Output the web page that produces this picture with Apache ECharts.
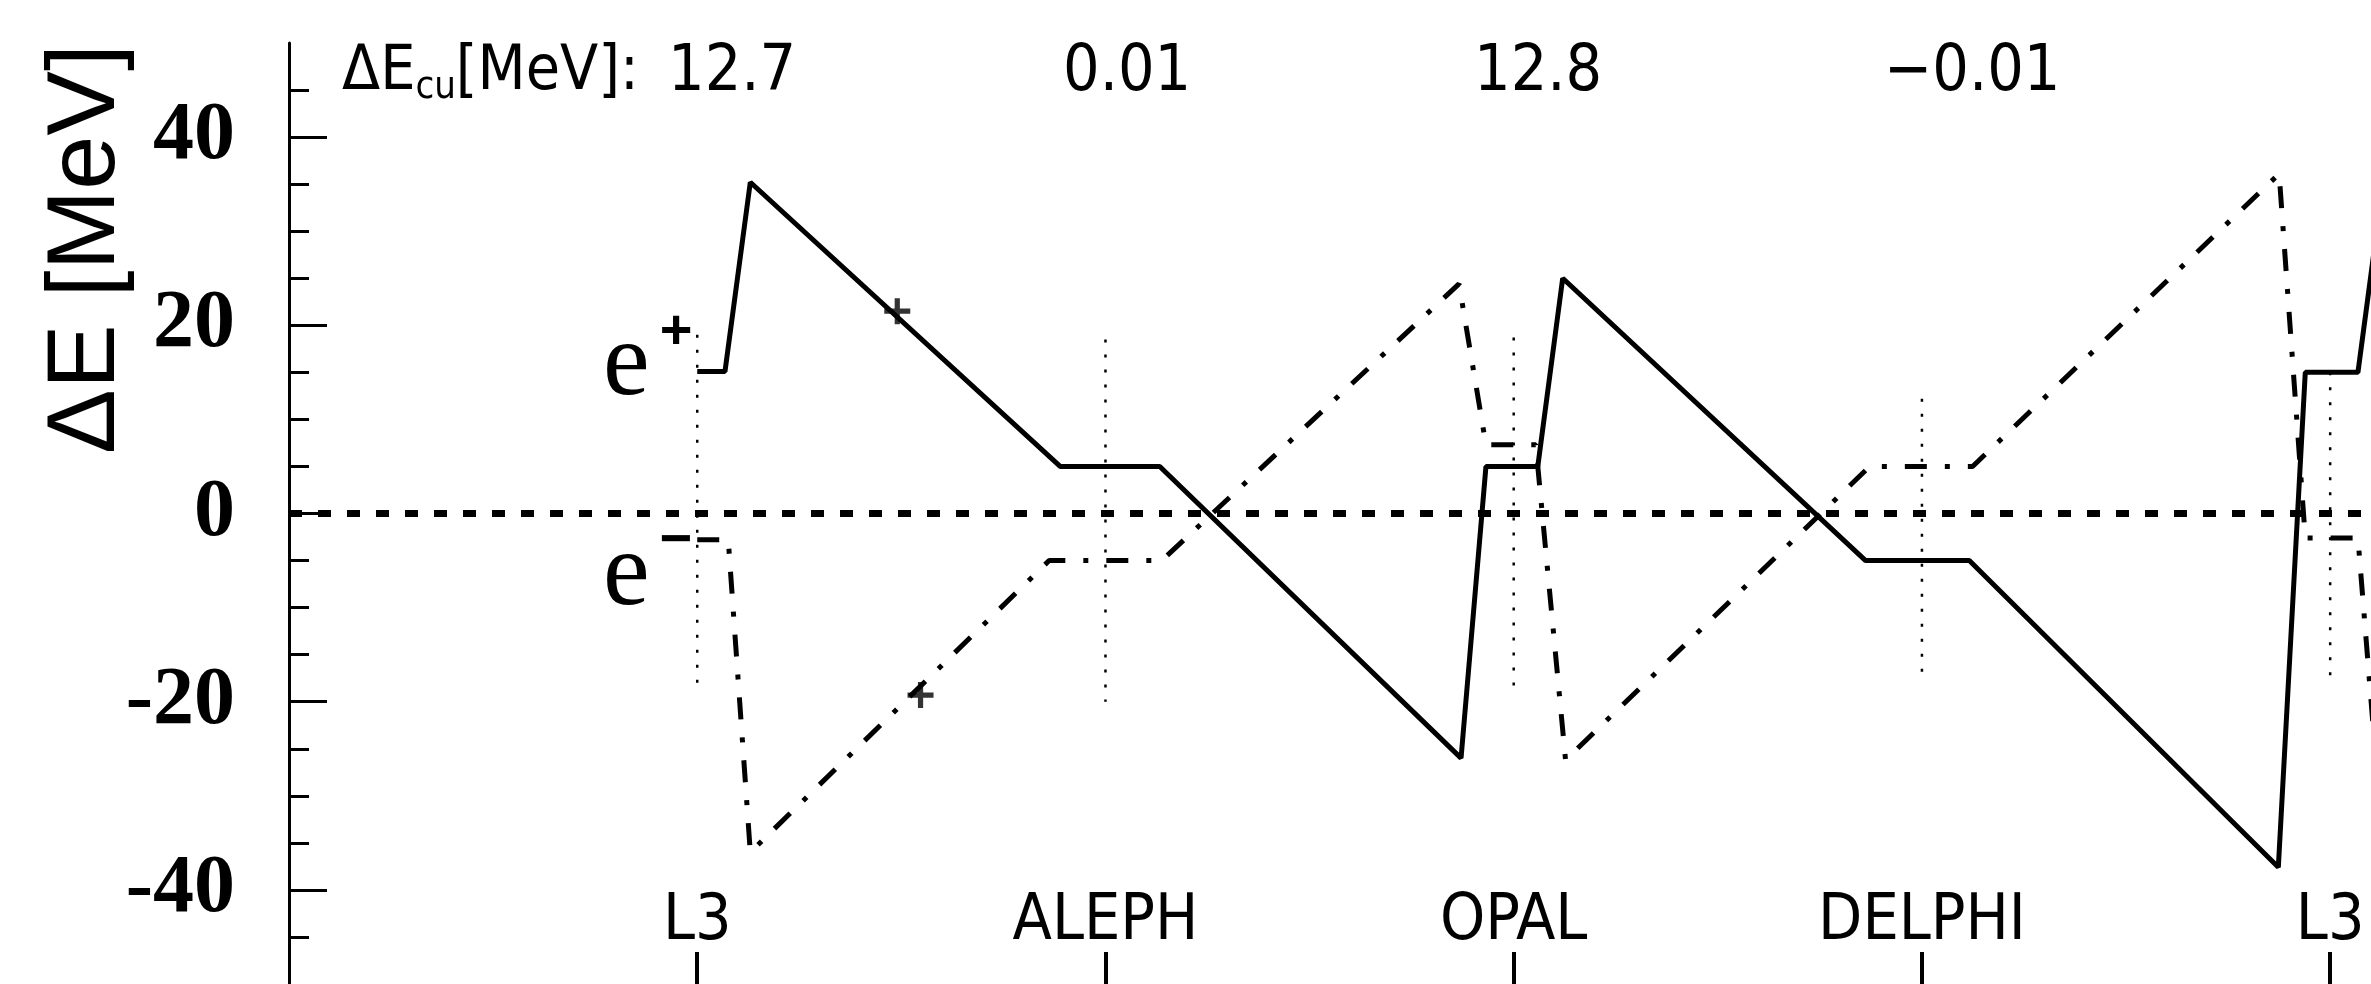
<!DOCTYPE html>
<html>
<head>
<meta charset="utf-8">
<script src="https://cdn.jsdelivr.net/npm/echarts@6/dist/echarts.min.js"></script>
<style>
html,body{margin:0;padding:0;background:#fff;}
#chart{width:2371px;height:984px;}
</style>
</head>
<body>
<div id="chart"></div>
<script>
// ---- data (x: ring position, L3 = 0, ALEPH = 1, OPAL = 2, DELPHI = 3, L3 = 4) ----
const detectorPos   = [0, 1, 2, 3, 4];
const detectorNames = ['L3', 'ALEPH', 'OPAL', 'DELPHI', 'L3'];
const deltaEcm      = ['12.7', '0.01', '12.8', '\u22120.01'];

const yMajorTicks = [-40, -20, 0, 20, 40];
const yMinorTicks = [-45, -35, -30, -25, -15, -10, -5, 5, 10, 15, 25, 30, 35, 45];

// e+ energy deviation [MeV] (solid)
const ePlusX = [0.0, 0.068, 0.13, 0.889, 1.133, 1.871, 1.932, 2.059, 2.12, 2.862, 3.116, 3.873, 3.939, 4.068, 4.13];
const ePlusY = [15.1, 15.1, 35.2, 5.0, 5.0, -26.0, 5.0, 5.0, 25.0, -5.0, -5.0, -37.6, 15.0, 15.0, 35.2];

// e- energy deviation [MeV] (dash-dot)
const eMinusX = [0.0, 0.076, 0.13, 0.862, 1.138, 1.866, 1.932, 2.054, 2.127, 2.872, 3.124, 3.875, 3.939, 4.068, 4.13];
const eMinusY = [-2.8, -2.8, -36.0, -5.0, -5.0, 24.4, 7.3, 7.3, -26.2, 5.0, 5.0, 36.1, -2.6, -2.6, -36.0];

// dotted vertical marks at the interaction points
const ipTop    = [19.0, 18.5, 18.7, 12.2, 15.0];
const ipBottom = [-18.5, -20.0, -18.7, -17.2, -18.4];

// small cross marks on the curves
const crossX = [0.49, 0.547];
const crossY = [21.5, -19.3];

// zero reference line
const zeroX = [-1, 4.1];
const zeroY = [0, 0];

// ---- chart ----
const zip = (xs, ys) => xs.map((x, i) => [x, ys[i]]);
const narrow = "'Liberation Sans Narrow', 'DejaVu Sans Condensed', 'Liberation Sans', sans-serif";

const chart = echarts.init(document.getElementById('chart'), null, {renderer: 'canvas'});

const ipSeries = detectorPos.map((x, i) => ({
  type: 'line', silent: true, symbol: 'none', animation: false,
  data: [[x, ipTop[i]], [x, ipBottom[i]]],
  lineStyle: {color: '#000', width: 2.5, type: [3, 12]}
}));

const annotX = [668, 1063, 1474, 1884];

const option = {
  backgroundColor: '#fff',
  animation: false,
  grid: {left: 289, top: 43, width: 2088, height: 944, containLabel: false},
  xAxis: {
    type: 'value', min: -1, max: 4.1,
    axisLine: {show: false, onZero: false},
    splitLine: {show: false},
    axisTick: {show: true, inside: true, length: 32, customValues: detectorPos,
               lineStyle: {color: '#000', width: 4}},
    axisLabel: {show: true, inside: true, customValues: detectorPos, margin: 30,
                formatter: v => detectorNames[Math.round(v)] || '',
                color: '#000', fontSize: 64, fontFamily: narrow}
  },
  yAxis: [{
    type: 'value', min: -50, max: 50, position: 'left',
    axisLine: {show: true, onZero: false, lineStyle: {color: '#000', width: 3}},
    splitLine: {show: false},
    axisTick: {show: true, inside: true, length: 38, customValues: yMajorTicks,
               lineStyle: {color: '#000', width: 3}},
    axisLabel: {show: true, customValues: yMajorTicks, margin: 54,
                color: '#000', fontSize: 82, fontWeight: 'bold',
                fontFamily: "'Liberation Serif', 'DejaVu Serif', serif"}
  }, {
    type: 'value', min: -50, max: 50, position: 'left',
    axisLine: {show: false, onZero: false},
    splitLine: {show: false},
    axisTick: {show: true, inside: true, length: 20, customValues: yMinorTicks,
               lineStyle: {color: '#000', width: 3}},
    axisLabel: {show: false}
  }],
  series: [
    {type: 'line', silent: true, symbol: 'none', data: zip(zeroX, zeroY),
     lineStyle: {color: '#000', width: 7, type: [13, 16]}},
    ...ipSeries,
    {type: 'line', name: 'e+', symbol: 'none', data: zip(ePlusX, ePlusY),
     lineStyle: {color: '#000', width: 5, type: 'solid'}},
    {type: 'line', name: 'e-', symbol: 'none', data: zip(eMinusX, eMinusY),
     lineStyle: {color: '#000', width: 5, type: [22, 18, 5, 18]}},
    {type: 'scatter', silent: true, data: zip(crossX, crossY),
     symbol: 'path://M4,0h2v4h4v2h-4v4h-2v-4h-4v-2h4z', symbolSize: 26,
     itemStyle: {color: '#000'}}
  ],
  graphic: [
    {type: 'text', x: 87, y: 249, rotation: Math.PI / 2,
     style: {text: '\u0394E [MeV]', fill: '#000', font: "97px 'Liberation Sans', sans-serif",
             align: 'center', verticalAlign: 'middle'}},
    {type: 'text', x: 342, y: 73,
     style: {text: '\u0394E{s|cu}[MeV]:', fill: '#000', fontSize: 62, fontFamily: narrow,
             align: 'left', verticalAlign: 'middle',
             rich: {s: {fontSize: 38, fontFamily: narrow, padding: [30, 0, 0, 0]}}}},
    ...deltaEcm.map((t, i) => ({type: 'text', x: annotX[i], y: 73,
     style: {text: t, fill: '#000', fontSize: 64, fontFamily: narrow,
             align: 'left', verticalAlign: 'middle'}})),
    {type: 'text', x: 603, y: 366,
     style: {text: 'e', fill: '#000', font: "105px 'Liberation Serif', serif",
             align: 'left', verticalAlign: 'middle'}},
    {type: 'text', x: 676, y: 333,
     style: {text: '+', fill: '#000', font: "bold 56px 'Liberation Sans', sans-serif",
             align: 'center', verticalAlign: 'middle'}},
    {type: 'text', x: 603, y: 576,
     style: {text: 'e', fill: '#000', font: "105px 'Liberation Serif', serif",
             align: 'left', verticalAlign: 'middle'}},
    {type: 'text', x: 676, y: 542,
     style: {text: '\u2212', fill: '#000', font: "bold 56px 'Liberation Sans', sans-serif",
             align: 'center', verticalAlign: 'middle'}}
  ]
};
chart.setOption(option);
</script>
</body>
</html>
